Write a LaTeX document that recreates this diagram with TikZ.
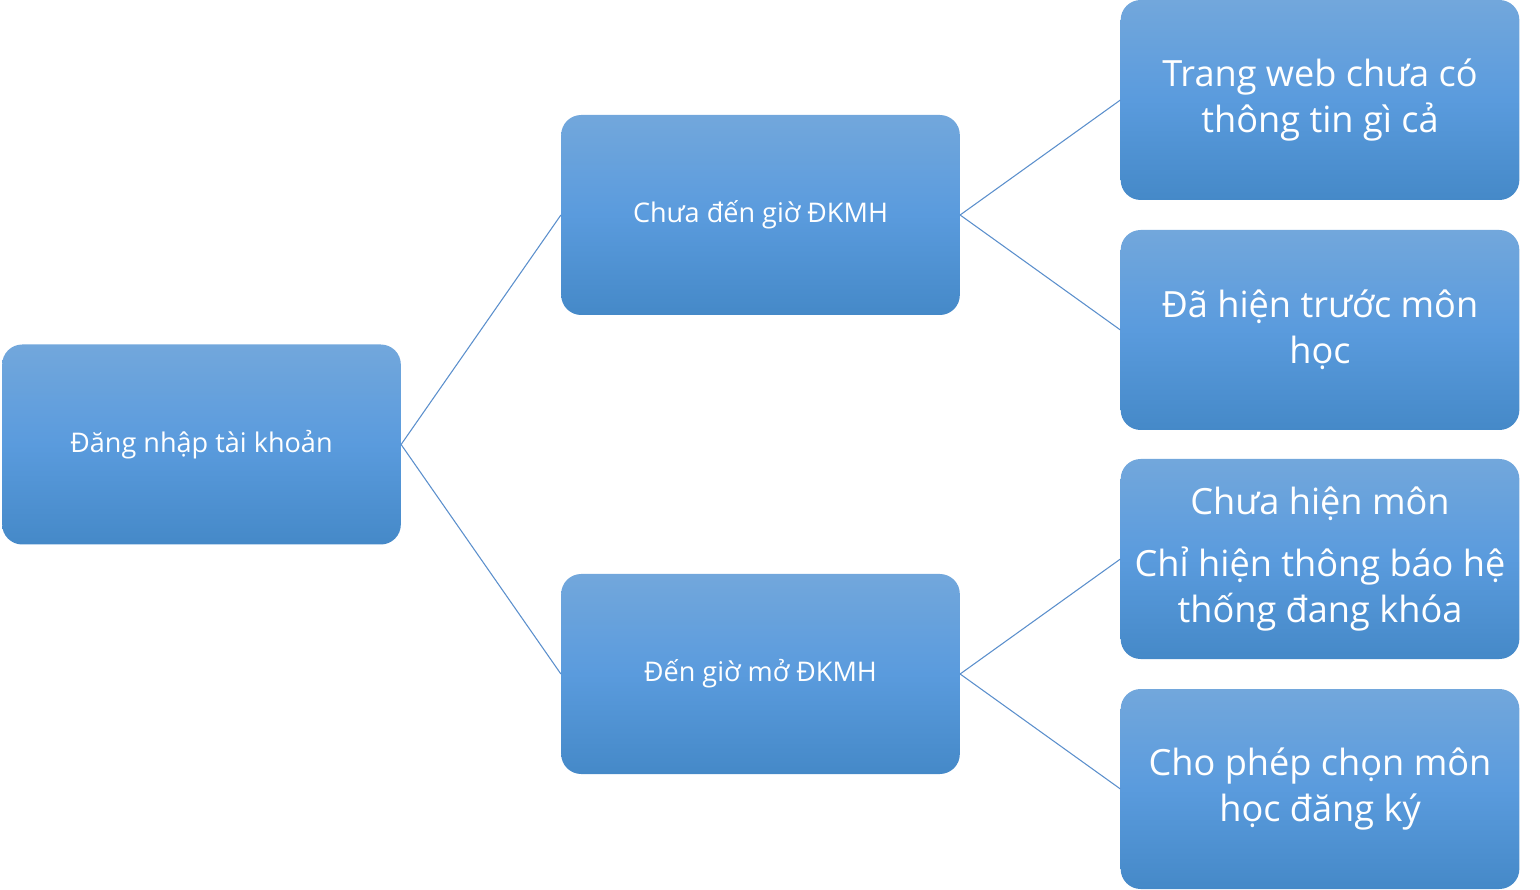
\documentclass[tikz,border=0pt]{standalone}
\usepackage{fontspec}
\setmainfont{Open Sans}
\usetikzlibrary{positioning}
\definecolor{regTop}{HTML}{72A7DC}
\definecolor{regMid}{HTML}{5A9BDD}
\definecolor{regBottom}{HTML}{4589C8}
\definecolor{regLine}{HTML}{5B8FCC}
\tikzset{
  every picture/.style={text=white},
  reg box/.style={rounded corners=15pt, top color=regTop, bottom color=regBottom,
    middle color=regMid, draw=none, align=center, inner sep=0pt,
    minimum width=299pt, minimum height=150pt},
  reg small/.style={reg box, font=\fontsize{20.3}{25}\selectfont},
  reg big/.style={reg box, font=\fontsize{27.1}{34.5}\selectfont},
  reg line/.style={draw=regLine, line width=0.8pt}
}
\begin{document}
\begin{tikzpicture}[x=0.75pt,y=0.75pt]
  \useasboundingbox (0,0) rectangle (1540,889);
  % left column
  \node[reg small] (login) at (201.5,444.5) {Đăng nhập tài khoản};
  % middle column
  \node[reg small] (before) at (760.5,674) {Chưa đến giờ ĐKMH};
  \node[reg small] (open) at (760.5,215) {Đến giờ mở ĐKMH};
  % right column
  \node[reg big] (empty) at (1320,789) {Trang web chưa có\\thông tin gì cả};
  \node[reg big] (shown) at (1320,559) {Đã hiện trước môn\\học};
  \node[reg big] (locked) at (1320,330) {Chưa hiện môn\\[12pt]Chỉ hiện thông báo hệ\\thống đang khóa};
  \node[reg big] (choose) at (1320,100) {Cho phép chọn môn\\học đăng ký};
  % connectors
  \draw[reg line] (login.east) -- (before.west);
  \draw[reg line] (login.east) -- (open.west);
  \draw[reg line] (before.east) -- (empty.west);
  \draw[reg line] (before.east) -- (shown.west);
  \draw[reg line] (open.east) -- (locked.west);
  \draw[reg line] (open.east) -- (choose.west);
\end{tikzpicture}
\end{document}
